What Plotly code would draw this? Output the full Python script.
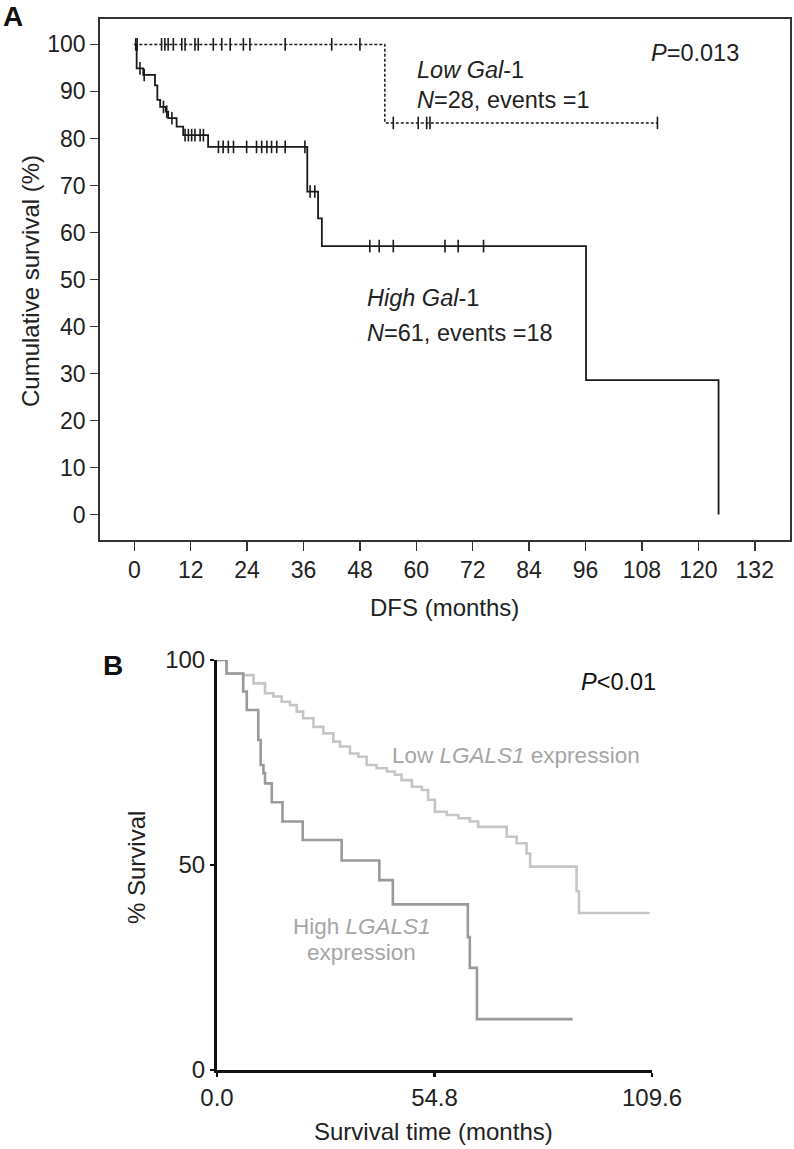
import plotly.graph_objects as go

# ---------------- Panel A data (DFS, months / cumulative survival %) ----------------
low_gal_t = [0, 53.3, 111.3]
low_gal_s = [100, 83.3, 83.3]
low_gal_cens_t = [0.3, 0.6, 5.8, 6.5, 7.2, 8.3, 10.1, 10.8, 12.9, 13.6, 16.8, 18.6,
                  20.4, 23.2, 24.6, 32.1, 42.0, 48.0, 55.1, 60.4, 62.2, 62.9, 111.3]

high_gal_t = [0, 0.5, 1.9, 4.4, 4.9, 5.5, 6.7, 7.2, 9.0, 10.4, 15.7, 36.8, 39.1, 39.9, 96.1, 124.3]
high_gal_s = [100, 94.9, 93.5, 91.3, 88.2, 86.7, 85.7, 84.3, 82.5, 80.7, 78.2, 68.7, 63.0, 57.1, 28.6, 0]
high_gal_cens_t = [1.2, 2.1, 6.2, 6.9, 8.0, 10.8, 11.5, 12.2, 12.9, 14.0, 14.7, 17.9, 18.9,
                   20.0, 21.1, 23.9, 26.0, 27.1, 28.2, 29.2, 30.3, 32.1, 36.3, 37.4, 38.4,
                   50.1, 52.1, 55.1, 66.1, 68.9, 74.3]

a_xticks = [0, 12, 24, 36, 48, 60, 72, 84, 96, 108, 120, 132]
a_yticks = [0, 10, 20, 30, 40, 50, 60, 70, 80, 90, 100]

# ---------------- Panel B data (survival time, months / % survival) ----------------
lgals_low_t = [0, 2.4, 6.6, 9.2, 12.1, 14.2, 16.3, 18.4, 20.1, 21.7, 24.3, 26.8, 29.3, 31.0,
               33.5, 35.6, 37.7, 40.2, 42.8, 44.8, 46.5, 49.1, 51.6, 53.2, 54.9, 57.9, 60.8,
               63.7, 65.8, 73.0, 75.5, 78.0, 78.9, 90.6, 91.2, 109.0]
lgals_low_s = [100, 96.7, 96.3, 94.3, 91.9, 91.1, 89.8, 89.0, 87.4, 85.8, 83.7, 82.1, 80.1, 78.9,
               77.2, 76.4, 74.4, 73.6, 72.8, 72.0, 70.7, 69.1, 68.3, 65.9, 63.0, 62.2, 61.4,
               60.6, 59.3, 56.9, 55.3, 52.8, 49.6, 43.6, 38.3, 38.3]

lgals_high_t = [0, 2.4, 6.6, 7.5, 10.4, 11.0, 11.7, 12.1, 13.8, 16.5, 21.6, 31.4, 40.9, 44.3,
                63.2, 63.7, 65.5, 89.6]
lgals_high_s = [100, 96.7, 92.3, 87.8, 80.5, 74.4, 72.4, 69.9, 65.3, 60.6, 56.1, 51.1, 46.3, 40.4,
                32.4, 24.9, 12.4, 12.4]

b_xticks = [0, 54.8, 109.6]
b_xticklabels = ["0.0", "54.8", "109.6"]
b_yticks = [0, 50, 100]

FONT = "Liberation Sans, Arial, Helvetica, sans-serif"
W, H = 794, 1149


def level_at(t, times, levels):
    lv = levels[0]
    for ti, li in zip(times, levels):
        if ti <= t:
            lv = li
    return lv


def px_x(x):
    return x / W


def px_y(y):
    return 1 - y / H


fig = go.Figure()

# Panel A curves
fig.add_trace(go.Scatter(x=high_gal_t, y=high_gal_s, mode="lines", line_shape="hv",
                         line=dict(color="#1a1a1a", width=1.8), xaxis="x", yaxis="y",
                         showlegend=False, hoverinfo="skip"))
fig.add_trace(go.Scatter(x=low_gal_t, y=low_gal_s, mode="lines", line_shape="hv",
                         line=dict(color="#1a1a1a", width=1.5, dash="3px,2px"),
                         xaxis="x", yaxis="y", showlegend=False, hoverinfo="skip"))
fig.add_trace(go.Scatter(x=high_gal_cens_t,
                         y=[level_at(t, high_gal_t, high_gal_s) for t in high_gal_cens_t],
                         mode="markers", xaxis="x", yaxis="y", showlegend=False,
                         marker=dict(symbol="line-ns", size=9,
                                     line=dict(color="#1a1a1a", width=1.6)),
                         hoverinfo="skip"))
fig.add_trace(go.Scatter(x=low_gal_cens_t,
                         y=[level_at(t, low_gal_t, low_gal_s) for t in low_gal_cens_t],
                         mode="markers", xaxis="x", yaxis="y", showlegend=False,
                         marker=dict(symbol="line-ns", size=9,
                                     line=dict(color="#1a1a1a", width=1.6)),
                         hoverinfo="skip"))

# Panel B curves
fig.add_trace(go.Scatter(x=lgals_low_t, y=lgals_low_s, mode="lines", line_shape="hv",
                         line=dict(color="#c6c6c6", width=2.6), xaxis="x2", yaxis="y2",
                         showlegend=False, hoverinfo="skip"))
fig.add_trace(go.Scatter(x=lgals_high_t, y=lgals_high_s, mode="lines", line_shape="hv",
                         line=dict(color="#9a9a9a", width=2.6), xaxis="x2", yaxis="y2",
                         showlegend=False, hoverinfo="skip"))

tickfont = dict(family=FONT, size=23, color="#222222")

fig.update_layout(
    template="none",
    width=W, height=H, autosize=False,
    margin=dict(l=0, r=0, t=0, b=0, pad=0),
    paper_bgcolor="white", plot_bgcolor="white",
    font=dict(family=FONT, color="#222222"),
    xaxis=dict(domain=[px_x(100), px_x(790)], range=[-7.3, 139.5], automargin=False,
               tickmode="array", tickvals=a_xticks, ticks="outside", ticklen=9,
               tickwidth=1.5, tickcolor="#333333", showline=True, mirror=True,
               linecolor="#333333", linewidth=1.8, showgrid=False, zeroline=False,
               tickfont=tickfont, anchor="y"),
    yaxis=dict(domain=[px_y(540), px_y(19)], range=[-5.4, 105.4], automargin=False,
               tickmode="array", tickvals=a_yticks, ticks="outside", ticklen=8,
               tickwidth=1.5, tickcolor="#333333", showline=True, mirror=True,
               linecolor="#333333", linewidth=1.8, showgrid=False, zeroline=False,
               tickfont=tickfont, anchor="x"),
    xaxis2=dict(domain=[px_x(217), px_x(652)], range=[0, 109.6], automargin=False,
                tickmode="array", tickvals=b_xticks, ticktext=b_xticklabels,
                ticks="outside", ticklen=4, tickwidth=2.5, tickcolor="#111111",
                showline=True, mirror=False, linecolor="#111111", linewidth=3,
                showgrid=False, zeroline=False, tickfont=dict(family=FONT, size=24, color="#222222"),
                anchor="y2"),
    yaxis2=dict(domain=[px_y(1070), px_y(660)], range=[0, 100], automargin=False,
                tickmode="array", tickvals=b_yticks, ticks="outside", ticklen=4,
                tickwidth=2.5, tickcolor="#111111", showline=True, mirror=False,
                linecolor="#111111", linewidth=3, showgrid=False, zeroline=False,
                tickfont=dict(family=FONT, size=24, color="#222222"), anchor="x2"),
)

ann = []


def paper_text(text, x, y, size=23, color="#222222", xanchor="center", yanchor="middle",
               angle=0, bold=False):
    ann.append(dict(text=("<b>%s</b>" % text) if bold else text, x=px_x(x), y=px_y(y),
                    xref="paper", yref="paper", showarrow=False, xanchor=xanchor,
                    yanchor=yanchor, textangle=angle,
                    font=dict(family=FONT, size=size, color=color)))


def data_text(text, x, y, xr, yr, size=23.5, color="#222222", xanchor="left"):
    ann.append(dict(text=text, x=x, y=y, xref=xr, yref=yr, showarrow=False,
                    xanchor=xanchor, yanchor="middle",
                    font=dict(family=FONT, size=size, color=color)))


# Panel labels
paper_text("A", 13, 16, size=28, color="#111111", bold=True)
paper_text("B", 113, 665, size=28, color="#111111", bold=True)

# Panel A axis titles and labels
paper_text("Cumulative survival (%)", 30, 281, size=24, angle=-90)
paper_text("DFS (months)", 444, 607, size=24)
data_text("<i>P</i>=0.013", 109.5, 98.2, "x", "y")
data_text("<i>Low Gal</i>-1", 59.8, 94.6, "x", "y")
data_text("<i>N</i>=28, events =1", 59.8, 88.2, "x", "y")
data_text("<i>High Gal</i>-1", 49.1, 46.0, "x", "y")
data_text("<i>N</i>=61, events =18", 49.1, 38.6, "x", "y")

# Panel B axis titles and labels
paper_text("% Survival", 136, 868, size=24, angle=-90)
paper_text("Survival time (months)", 433, 1131, size=24)
data_text("<i>P</i>&lt;0.01", 91.3, 94.7, "x2", "y2", size=23.5, color="#111111")
data_text("Low <i>LGALS1</i> expression", 43.6, 76.6, "x2", "y2", size=22.5, color="#a6a6a6")
data_text("High <i>LGALS1</i>", 36.5, 35.0, "x2", "y2", size=22.5, color="#a6a6a6", xanchor="center")
data_text("expression", 36.5, 28.7, "x2", "y2", size=22.5, color="#a6a6a6", xanchor="center")

fig.update_layout(annotations=ann)

fig.write_html("out.html", config={"displayModeBar": False, "staticPlot": True},
               post_script="document.body.style.margin='0px';")
